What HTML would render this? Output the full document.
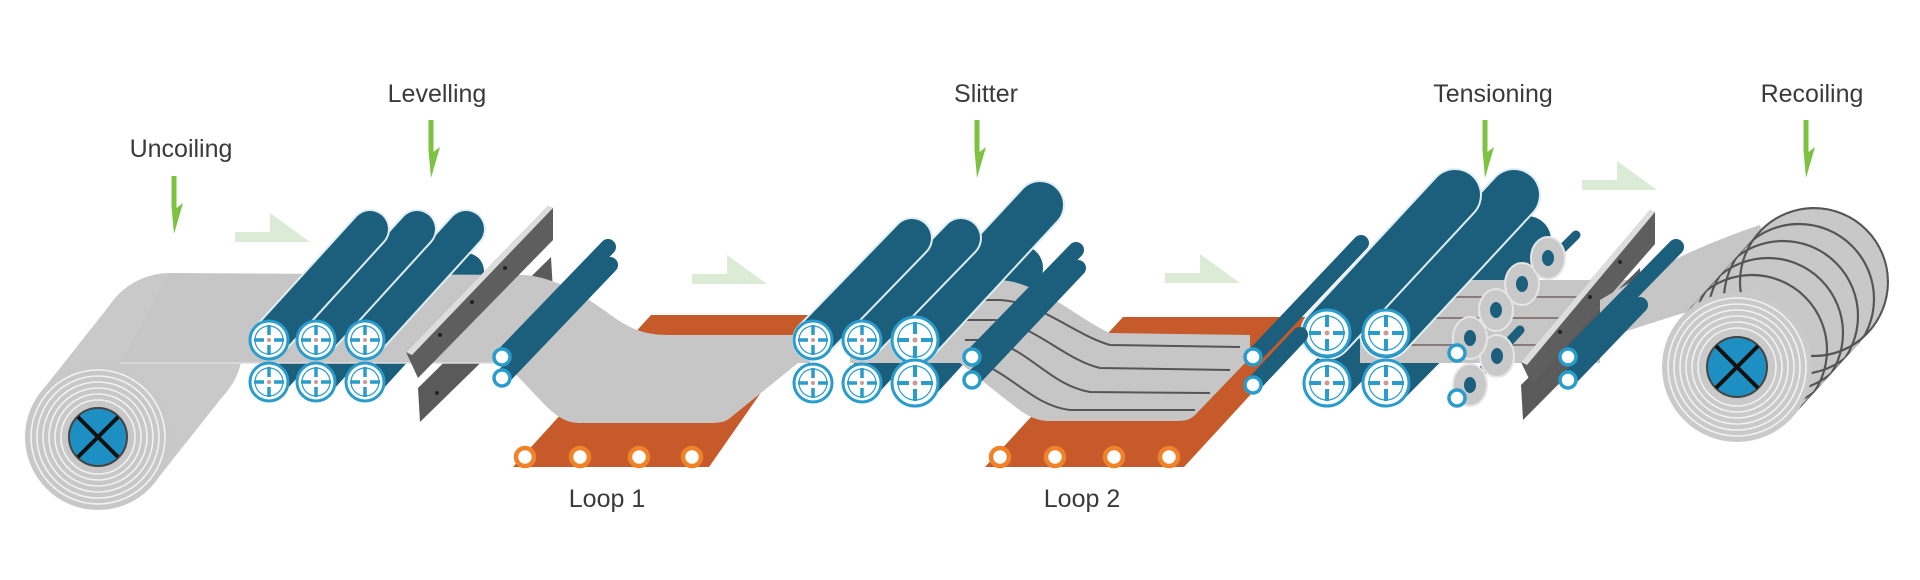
<!DOCTYPE html>
<html><head><meta charset="utf-8"><style>
html,body{margin:0;padding:0;background:#fff;width:1920px;height:580px;overflow:hidden}
svg text{font-family:"Liberation Sans",Arial,sans-serif;font-size:25px;fill:#3a3a3a}
</style></head><body>
<svg width="1920" height="580" viewBox="0 0 1920 580" xmlns="http://www.w3.org/2000/svg">
<defs>
<g id="w19"><circle r="19" fill="#fff" stroke="#2a9ccc" stroke-width="3"/><circle r="14" fill="none" stroke="#2a9ccc" stroke-width="1.2"/>
<path d="M0,-15V-5M0,5V15M-15,0H-5M5,0H15" stroke="#2a9ccc" stroke-width="3.5"/><circle r="2" fill="#c99"/></g>
<g id="w23"><circle r="23" fill="#fff" stroke="#2a9ccc" stroke-width="3"/><circle r="17" fill="none" stroke="#2a9ccc" stroke-width="1.2"/>
<path d="M0,-18V-6M0,6V18M-18,0H-6M6,0H18" stroke="#2a9ccc" stroke-width="4"/><circle r="2.5" fill="#c99"/></g>
<g id="sr"><circle r="8" fill="#fff" stroke="#2a9ccc" stroke-width="3.5"/></g>
<g id="lr"><circle r="9" fill="#fff" stroke="#f0822a" stroke-width="4.5"/></g>
<g id="wa"><ellipse rx="17" ry="21" fill="#c9c9c9" stroke="#e6e6e6" stroke-width="2"/><ellipse rx="6" ry="8" fill="#1b5f7c"/></g>
<g id="arr"><path d="M-2.5,0H2.5V32L9,27L0,58L-2.5,30Z" fill="#7dc242"/></g>
<g id="fl"><path d="M0,19H35V0L75,29H0Z" fill="#dcebd5"/></g>
<clipPath id="rc"><polygon points="1682,317 1759,232 1869,332 1792,417"/><circle cx="1814" cy="282" r="75"/><circle cx="1737" cy="367" r="75"/></clipPath>
</defs>

<text x="181" y="157" text-anchor="middle">Uncoiling</text>
<text x="437" y="102" text-anchor="middle">Levelling</text>
<text x="986" y="102" text-anchor="middle">Slitter</text>
<text x="1493" y="102" text-anchor="middle">Tensioning</text>
<text x="1812" y="102" text-anchor="middle">Recoiling</text>
<text x="607" y="507" text-anchor="middle">Loop 1</text>
<text x="1082" y="507" text-anchor="middle">Loop 2</text>

<use href="#arr" x="174" y="176"/>
<use href="#arr" x="431" y="120"/>
<use href="#arr" x="977" y="120"/>
<use href="#arr" x="1485" y="120"/>
<use href="#arr" x="1806" y="120"/>

<use href="#fl" x="235" y="213"/>
<use href="#fl" x="692" y="255"/>
<use href="#fl" x="1165" y="254"/>
<use href="#fl" x="1582" y="161"/>

<polygon points="651,315 815,315 709,467 513,467" fill="#c65a2a"/>
<polygon points="1123,317 1322,317 1184,467 985,467" fill="#c65a2a"/>
<g>
<use href="#lr" x="525" y="457"/><use href="#lr" x="580" y="457"/><use href="#lr" x="639" y="457"/><use href="#lr" x="692" y="457"/>
<use href="#lr" x="1000" y="457"/><use href="#lr" x="1055" y="457"/><use href="#lr" x="1114" y="457"/><use href="#lr" x="1169" y="457"/>
</g>

<polygon points="418,388 551,257 553,292 420,422" fill="#5a5a5a"/>
<g stroke-linecap="round" stroke="#1b5f7c" stroke-width="36">
<line x1="269" y1="382" x2="370" y2="271"/><line x1="316" y1="382" x2="417" y2="271"/><line x1="365" y1="382" x2="466" y2="271"/>
</g>

<polygon points="41,392 113,301 227,391 155,482" fill="#c9c9c9"/>
<circle cx="170" cy="346" r="73" fill="#c9c9c9"/>
<path d="M170,273 L525,275 C560,278 590,300 615,318 C635,332 650,335 670,335 L810,335 L810,363 L798,363 L730,418 C725,422 720,423 710,423 L580,423 C565,423 555,415 545,405 L505,363 L120,363 Z" fill="#c6c6c6"/>
<line x1="120" y1="363" x2="505" y2="363" stroke="#ddd" stroke-width="1.5"/>
<circle cx="98" cy="437" r="73" fill="#c8c8c8"/>
<g fill="none" stroke="#f2f2f2" stroke-width="1.6">
<circle cx="98" cy="437" r="67"/><circle cx="98" cy="437" r="61"/><circle cx="98" cy="437" r="55"/><circle cx="98" cy="437" r="49"/><circle cx="98" cy="437" r="43"/><circle cx="98" cy="437" r="37"/>
</g>
<circle cx="98" cy="437" r="29" fill="#1e8fc2" stroke="#444" stroke-width="2"/>
<path d="M78,417L118,457M118,417L78,457" stroke="#111" stroke-width="4"/>

<g stroke-linecap="round">
<g stroke="#dfeef3" stroke-width="40"><line x1="365" y1="340" x2="466" y2="229"/></g>
<g stroke="#1b5f7c" stroke-width="36"><line x1="365" y1="340" x2="466" y2="229"/></g>
<g stroke="#dfeef3" stroke-width="40"><line x1="316" y1="340" x2="417" y2="229"/></g>
<g stroke="#1b5f7c" stroke-width="36"><line x1="316" y1="340" x2="417" y2="229"/></g>
<g stroke="#dfeef3" stroke-width="40"><line x1="269" y1="340" x2="370" y2="229"/></g>
<g stroke="#1b5f7c" stroke-width="36"><line x1="269" y1="340" x2="370" y2="229"/></g>
</g>
<use href="#w19" x="269" y="340"/><use href="#w19" x="316" y="340"/><use href="#w19" x="365" y="340"/>
<use href="#w19" x="269" y="382"/><use href="#w19" x="316" y="382"/><use href="#w19" x="365" y="382"/>

<polygon points="406,352 548,206 553,208 553,240 418,378" fill="#5e5e5e"/>
<polygon points="406,352 548,206 553,208 412,355" fill="#ddd"/>
<g fill="#222"><circle cx="440" cy="335" r="2"/><circle cx="472" cy="302" r="2"/><circle cx="505" cy="268" r="2"/><circle cx="437" cy="393" r="2"/></g>

<g stroke-linecap="round" stroke="#1b5f7c" stroke-width="16">
<line x1="502" y1="378" x2="610" y2="265"/>
<line x1="502" y1="357" x2="608" y2="247"/>
</g>
<use href="#sr" x="502" y="357"/><use href="#sr" x="502" y="378"/>

<g stroke-linecap="round" stroke="#1b5f7c">
<line x1="862" y1="383" x2="965" y2="270" stroke-width="38"/>
<line x1="915" y1="383" x2="1020" y2="268" stroke-width="46"/>
</g>
<path d="M850,280 L1000,280 C1040,282 1080,320 1110,333 L1250,335 L1250,363 L1245,363 L1195,415 C1190,420 1185,421 1175,421 L1050,421 C1030,421 1020,410 1000,395 L960,363 L850,363 Z" fill="#c6c6c6"/>
<g fill="none" stroke="#555" stroke-width="2">
<path d="M955,300 L1000,300 C1040,302 1075,335 1110,345 L1240,347"/>
<path d="M960,320 L995,320 C1035,325 1065,360 1100,368 L1230,370"/>
<path d="M965,340 L990,340 C1030,350 1050,385 1090,392 L1210,393"/>
<path d="M970,360 C1010,370 1030,405 1070,410 L1195,410"/>
</g>
<g stroke-linecap="round">
<line x1="915" y1="340" x2="1040" y2="205" stroke="#dfeef3" stroke-width="50"/>
<line x1="915" y1="340" x2="1040" y2="205" stroke="#1b5f7c" stroke-width="46"/>
<line x1="862" y1="340" x2="961" y2="238" stroke="#dfeef3" stroke-width="42"/>
<line x1="862" y1="340" x2="961" y2="238" stroke="#1b5f7c" stroke-width="38"/>
<line x1="813" y1="340" x2="912" y2="238" stroke="#dfeef3" stroke-width="42"/>
<line x1="813" y1="340" x2="912" y2="238" stroke="#1b5f7c" stroke-width="38"/>
</g>
<use href="#w19" x="813" y="340"/><use href="#w19" x="862" y="340"/><use href="#w23" x="915" y="340"/>
<use href="#w19" x="813" y="383"/><use href="#w19" x="862" y="383"/><use href="#w23" x="915" y="383"/>
<g stroke-linecap="round" stroke="#1b5f7c" stroke-width="16">
<line x1="972" y1="380" x2="1078" y2="268"/>
<line x1="972" y1="357" x2="1076" y2="250"/>
</g>
<use href="#sr" x="972" y="357"/><use href="#sr" x="972" y="380"/>

<g stroke-linecap="round" stroke="#1b5f7c">
<line x1="1386" y1="383" x2="1527" y2="240" stroke-width="48"/>
<line x1="1327" y1="383" x2="1440" y2="265" stroke-width="48"/>
</g>
<polygon points="1360,335 1600,335 1600,363 1360,363" fill="#c6c6c6"/>
<polygon points="1430,280 1640,280 1600,335 1400,335" fill="#c6c6c6"/>
<g stroke="#8a7a7a" stroke-width="2"><line x1="1420" y1="297" x2="1620" y2="297"/><line x1="1410" y1="318" x2="1610" y2="318"/><line x1="1400" y1="345" x2="1600" y2="345"/></g>
<g stroke-linecap="round">
<line x1="1386" y1="333" x2="1514" y2="195" stroke="#dfeef3" stroke-width="54"/>
<line x1="1386" y1="333" x2="1514" y2="195" stroke="#1b5f7c" stroke-width="50"/>
<line x1="1327" y1="333" x2="1455" y2="195" stroke="#dfeef3" stroke-width="54"/>
<line x1="1327" y1="333" x2="1455" y2="195" stroke="#1b5f7c" stroke-width="50"/>
</g>
<use href="#w23" x="1327" y="333"/><use href="#w23" x="1386" y="333"/>
<use href="#w23" x="1327" y="383"/><use href="#w23" x="1386" y="383"/>
<g stroke-linecap="round" stroke="#1b5f7c" stroke-width="16">
<line x1="1253" y1="385" x2="1300" y2="335"/>
<line x1="1253" y1="357" x2="1361" y2="243"/>
</g>
<use href="#sr" x="1253" y="357"/><use href="#sr" x="1253" y="385"/>

<g stroke-linecap="round" stroke="#1b5f7c" stroke-width="9">
<line x1="1457" y1="398" x2="1520" y2="330"/>
<line x1="1457" y1="353" x2="1576" y2="235"/>
</g>
<use href="#wa" x="1470" y="385"/><use href="#wa" x="1497" y="356"/>
<use href="#wa" x="1470" y="338"/><use href="#wa" x="1496" y="310"/><use href="#wa" x="1522" y="284"/><use href="#wa" x="1548" y="258"/>
<use href="#sr" x="1457" y="353"/><use href="#sr" x="1457" y="398"/>

<polygon points="1521,385 1640,268 1642,300 1523,420" fill="#5a5a5a"/>
<polygon points="1521,362 1650,210 1655,212 1655,244 1532,385" fill="#5e5e5e"/>
<polygon points="1521,362 1650,210 1655,212 1527,365" fill="#ddd"/>
<g fill="#222"><circle cx="1560" cy="332" r="2"/><circle cx="1590" cy="297" r="2"/><circle cx="1620" cy="262" r="2"/></g>

<path d="M1600,300 C1650,270 1700,245 1760,225 L1780,290 C1720,300 1660,320 1600,340 Z" fill="#c6c6c6"/>
<g stroke-linecap="round" stroke="#1b5f7c" stroke-width="16">
<line x1="1568" y1="380" x2="1640" y2="305"/>
<line x1="1568" y1="357" x2="1676" y2="247"/>
</g>
<use href="#sr" x="1568" y="357"/><use href="#sr" x="1568" y="380"/>
<polygon points="1682,317 1759,232 1869,332 1792,417" fill="#c8c8c8"/>
<circle cx="1814" cy="282" r="75" fill="#c8c8c8"/>
<g fill="none" stroke="#555" stroke-width="2.2" clip-path="url(#rc)">
<circle cx="1752" cy="350" r="75"/>
<circle cx="1768" cy="333" r="75"/>
<circle cx="1783" cy="316" r="75"/>
<circle cx="1799" cy="299" r="75"/>
<circle cx="1814" cy="282" r="74"/>
</g>
<circle cx="1737" cy="367" r="75" fill="#cacaca"/>
<g fill="none" stroke="#f2f2f2" stroke-width="1.6">
<circle cx="1737" cy="367" r="69"/><circle cx="1737" cy="367" r="63"/><circle cx="1737" cy="367" r="57"/><circle cx="1737" cy="367" r="51"/><circle cx="1737" cy="367" r="45"/><circle cx="1737" cy="367" r="39"/>
</g>
<circle cx="1737" cy="367" r="30" fill="#1e8fc2" stroke="#444" stroke-width="2"/>
<path d="M1716,346L1758,388M1758,346L1716,388" stroke="#111" stroke-width="4"/>
</svg>
</body></html>
